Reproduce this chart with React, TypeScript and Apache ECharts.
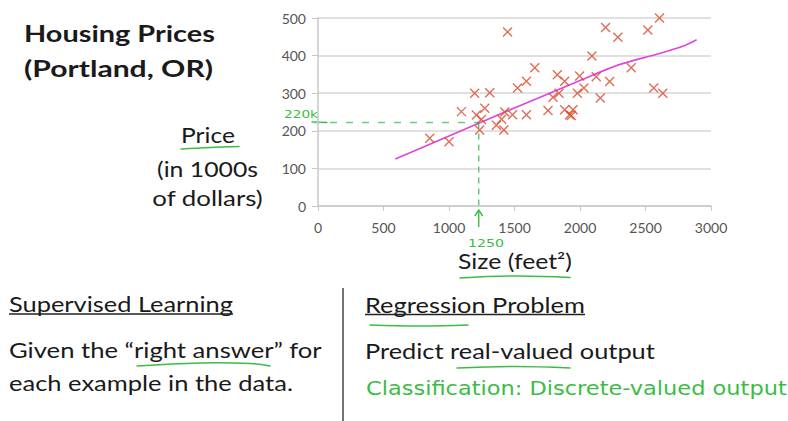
import React, { useEffect, useRef } from "react";
import * as echarts from "echarts";

// ---- data ----
const sizes = [853, 1000, 1095, 1196, 1209, 1247, 1234, 1273, 1311, 1362, 1401, 1419, 1426, 1447, 1485, 1523, 1591, 1591, 1655, 1756, 1794, 1827, 1840, 1883, 1883, 1921, 1934, 1947, 1980, 1997, 2030, 2091, 2124, 2155, 2195, 2226, 2289, 2391, 2518, 2563, 2607, 2632];
const prices = [180, 171, 251, 300, 242, 230, 202, 260, 301, 215, 231, 202, 250, 463, 243, 314, 243, 332, 368, 254, 289, 349, 300, 332, 256, 243, 241, 256, 300, 346, 314, 399, 344, 287, 475, 331, 449, 368, 468, 314, 500, 300];
const fitSizes = [590, 1000, 1400, 1700, 2000, 2300, 2600, 2800, 2890];
const fitPrices = [125, 186, 246, 290, 334, 376, 405, 427, 442];
const xTicks = [0, 500, 1000, 1500, 2000, 2500, 3000];
const yTicks = [0, 100, 200, 300, 400, 500];
const queryX = 1227;
const queryY = 222;

const FONT = "Lato, 'Open Sans', sans-serif";
const GREEN = "#3cbc44";

let ctx: CanvasRenderingContext2D | null = null;
function measure(text: string, size: number, weight: string, family: string) {
  if (!ctx) ctx = document.createElement("canvas").getContext("2d");
  if (!ctx) return text.length * size * 0.5;
  ctx.font = `${weight} ${size}px ${family}`;
  return ctx.measureText(text).width;
}

function txt(
  text: string,
  x: number,
  baseline: number,
  size: number,
  width: number,
  opts: { align?: string; weight?: string; color?: string; family?: string } = {}
) {
  const weight = opts.weight || "normal";
  const family = opts.family || FONT;
  const w = measure(text, size, weight, family);
  return {
    type: "text",
    x,
    y: baseline - 0.35 * size,
    scaleX: width / w,
    silent: true,
    style: {
      text,
      fontSize: size,
      fontFamily: family,
      fontWeight: weight,
      fill: opts.color || "#1a1a1a",
      align: opts.align || "left",
      verticalAlign: "middle",
    },
  };
}

function stroke(points: number[][], color: string, width = 1.5, dash?: number[]) {
  return {
    type: "polyline",
    silent: true,
    shape: { points, smooth: 0.4 },
    style: { stroke: color, lineWidth: width, fill: "none", lineDash: dash, lineCap: "round" },
  };
}

export default function App() {
  const ref = useRef<HTMLDivElement>(null);
  useEffect(() => {
    if (!ref.current) return;
    const chart = echarts.init(ref.current, undefined, { renderer: "svg" });
    const axisLabel = { color: "#555", fontSize: 14, fontFamily: FONT, formatter: (v: number) => String(v) };
    chart.setOption({
      animation: false,
      backgroundColor: "#fff",
      grid: { left: 318, top: 18, right: 77, bottom: 215, containLabel: false },
      xAxis: {
        type: "value",
        min: xTicks[0],
        max: xTicks[xTicks.length - 1],
        interval: 500,
        splitLine: { show: false },
        axisLine: { show: true, lineStyle: { color: "#c8c8c8", width: 1.5 } },
        axisTick: { show: true, length: 5, lineStyle: { color: "#c8c8c8" } },
        axisLabel: { ...axisLabel, margin: 14 },
      },
      yAxis: {
        type: "value",
        min: yTicks[0],
        max: yTicks[yTicks.length - 1],
        interval: 100,
        splitLine: { show: true, lineStyle: { color: "#d6d6d6", width: 1.5 } },
        axisLine: { show: true, lineStyle: { color: "#c8c8c8", width: 1.5 } },
        axisTick: { show: true, length: 6, lineStyle: { color: "#c8c8c8" } },
        axisLabel: { ...axisLabel, margin: 12 },
      },
      series: [
        {
          type: "line",
          data: fitSizes.map((s, i) => [s, fitPrices[i]]),
          showSymbol: false,
          smooth: 0.3,
          lineStyle: { color: "#de45de", width: 1.6 },
          z: 2,
        },
        {
          type: "scatter",
          data: sizes.map((s, i) => [s, prices[i]]),
          symbol: "path://M0,0L10,10M10,0L0,10",
          symbolSize: 9,
          itemStyle: { color: "rgba(0,0,0,0)", borderColor: "#d8482c", borderWidth: 1.4 },
          z: 3,
        },
      ],
    });

    const q = chart.convertToPixel({ gridIndex: 0 }, [queryX, queryY]) as number[];
    const q0 = chart.convertToPixel({ gridIndex: 0 }, [queryX, 0]) as number[];

    const graphic: any[] = [
      // left titles
      txt("Housing Prices", 24, 41, 23, 191, { weight: "bold" }),
      txt("(Portland, OR)", 24, 76.5, 23, 189, { weight: "bold" }),
      txt("Price", 208, 142, 21, 54, { align: "center" }),
      txt("(in 1000s", 207.5, 176, 21, 101, { align: "center" }),
      txt("of dollars)", 207.5, 205, 21, 111, { align: "center" }),
      txt("Size (feet²)", 515, 268, 21, 114, { align: "center" }),
      // bottom left
      txt("Supervised Learning", 9, 311.5, 22, 224),
      txt("Given the \u201Cright answer\u201D for", 9, 357, 22, 313),
      txt("each example in the data.", 9, 390, 22, 284),
      // bottom right
      txt("Regression Problem", 365, 312, 22, 220),
      txt("Predict real-valued output", 365, 358, 22, 290),
      txt("Classification: Discrete-valued output", 366, 395, 20, 421, { color: GREEN, family: "'DejaVu Sans', sans-serif", weight: "normal" }),
      // underlines
      { type: "line", silent: true, shape: { x1: 9, y1: 314, x2: 233, y2: 314 }, style: { stroke: "#222", lineWidth: 1.3 } },
      { type: "line", silent: true, shape: { x1: 365, y1: 314.5, x2: 585, y2: 314.5 }, style: { stroke: "#222", lineWidth: 1.3 } },
      // divider
      { type: "line", silent: true, shape: { x1: 343, y1: 288, x2: 343, y2: 421 }, style: { stroke: "#444", lineWidth: 1.5 } },
      // green hand strokes
      stroke([[181, 149], [210, 147.5], [239, 146.5]], GREEN),
      stroke([[460, 278], [515, 276], [570, 277.5]], GREEN),
      stroke([[137, 366], [200, 363], [250, 363.5], [270, 366]], GREEN),
      stroke([[370, 325], [420, 326], [468, 325]], GREEN),
      stroke([[457, 368], [515, 366.5], [570, 368]], GREEN),
      // query annotation
      stroke([[312, 122], [327, 122.5]], GREEN, 1.3),
      {
        type: "line",
        silent: true,
        shape: { x1: 314, y1: q[1], x2: q[0], y2: q[1] },
        style: { stroke: "#6ccf80", lineWidth: 1.4, lineDash: [7, 9] },
      },
      {
        type: "line",
        silent: true,
        shape: { x1: q[0], y1: q[1], x2: q0[0], y2: q0[1] },
        style: { stroke: "#5cc86e", lineWidth: 1.4, lineDash: [6, 5] },
      },
      { type: "line", silent: true, shape: { x1: q0[0], y1: q0[1] + 4, x2: q0[0], y2: q0[1] + 21 }, style: { stroke: GREEN, lineWidth: 1.4 } },
      {
        type: "polyline",
        silent: true,
        shape: { points: [[q0[0] - 4, q0[1] + 10], [q0[0], q0[1] + 4], [q0[0] + 4, q0[1] + 10]] },
        style: { stroke: GREEN, lineWidth: 1.4, fill: "none" },
      },
      txt("220k", 301, 118, 11, 34, { align: "center", color: GREEN, family: "'DejaVu Sans', sans-serif" }),
      txt("1250", 486, 247, 11, 36, { align: "center", color: GREEN, family: "'DejaVu Sans', sans-serif" }),
    ];
    chart.setOption({ graphic });

    return () => chart.dispose();
  }, []);
  return (
    <div
      ref={ref}
      style={{ position: "fixed", left: 0, top: 0, width: 788, height: 421, background: "#fff" }}
    />
  );
}
